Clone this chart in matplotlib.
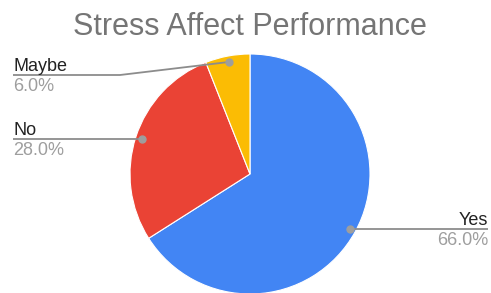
import numpy as np
import matplotlib
matplotlib.use("Agg")
import matplotlib.pyplot as plt

plt.rcParams['font.family'] = ['Liberation Sans', 'DejaVu Sans']

# data
labels = ["Yes", "No", "Maybe"]
shares = [66.0, 28.0, 6.0]
colors = ["#4285F4", "#EA4335", "#FBBC04"]
title = "Stress Affect Performance"

W, H = 491, 293
fig = plt.figure(figsize=(W / 100, H / 100), dpi=100)
fig.patch.set_facecolor("white")

# pie axes: centre (250, 174) px from top-left, radius 120 px
cx, cy, R = 250, 174, 120
ax = fig.add_axes([(cx - R) / W, (H - cy - R) / H, 2 * R / W, 2 * R / H])

wedges, _ = ax.pie(shares, colors=colors, startangle=90, counterclock=False,
                   radius=1.0, wedgeprops=dict(linewidth=0.8, edgecolor="white"))
ax.set_xlim(-1, 1); ax.set_ylim(-1, 1)
ax.set_aspect("equal")
ax.axis("off")
for w in wedges:
    w.set_clip_on(False)

# label layout (axes units, 1 = pie radius)
px = 1 / R
left_x = (13 - cx) * px
right_x = (488 - cx) * px
label_y_override = {"Maybe": (cy - 75) * px}
elbow_x = {"Maybe": (120 - cx) * px}

line_col = "#8c8c8c"
for w, lab, val in zip(wedges, labels, shares):
    mid = np.deg2rad((w.theta1 + w.theta2) / 2)
    dx, dy = 0.95 * np.cos(mid), 0.95 * np.sin(mid)
    ly = label_y_override.get(lab, dy)
    right = dx > 0
    end_x = right_x if right else left_x
    xs = [dx]
    ys = [dy]
    if lab in elbow_x:
        xs.append(elbow_x[lab]); ys.append(ly)
    xs.append(end_x); ys.append(ly)
    ax.plot(xs, ys, color=line_col, lw=1.3, clip_on=False, solid_capstyle="butt")
    ax.plot([dx], [dy], "o", ms=5, color="#9e9e9e", clip_on=False)
    ha = "right" if right else "left"
    ax.text(end_x, ly + 4 * px, lab, ha=ha, va="baseline", fontsize=13,
            color="#222222", clip_on=False)
    ax.text(end_x, ly - 3 * px, f"{val:.1f}%", ha=ha, va="top", fontsize=13,
            color="#9e9e9e", clip_on=False)

fig.text(250 / W, 1 - 27 / H, title, ha="center", va="center", fontsize=22,
         color="#757575")

fig.savefig("out.png", dpi=100)
